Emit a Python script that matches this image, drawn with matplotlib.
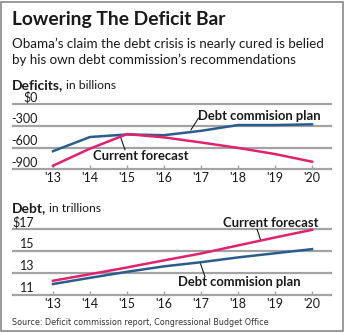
import matplotlib
matplotlib.use("Agg")
import matplotlib.pyplot as plt
from matplotlib.patches import Rectangle
from matplotlib.transforms import offset_copy, blended_transform_factory

years = [2013, 2014, 2015, 2016, 2017, 2018, 2019, 2020]
year_labels = ["'13", "'14", "'15", "'16", "'17", "'18", "'19", "'20"]

deficit_plan = [-650, -455, -420, -430, -370, -290, -290, -280]
deficit_forecast = [-850, -615, -415, -460, -530, -605, -690, -795]
deficit_ticks = [0, -300, -600, -900]
deficit_tick_labels = ["$0", "-300", "-600", "-900"]

debt_plan = [11.98, 12.55, 13.1, 13.6, 13.98, 14.42, 14.8, 15.18]
debt_forecast = [12.28, 12.88, 13.5, 14.15, 14.78, 15.52, 16.25, 16.95]
debt_ticks = [17, 15, 13, 11]
debt_tick_labels = ["$17", "15", "13", "11"]

BLUE = "#2b5d8c"
PINK = "#e0236f"
GRID = "#a3a3a3"
TEXT = "#1a1a1a"
FONT = "Lato"

W, H = 345, 333
fig = plt.figure(figsize=(W / 100, H / 100), dpi=100)
fig.patch.set_facecolor("white")
fig.add_artist(Rectangle((1 / W, 2 / H), (W - 3) / W, (H - 4) / H, transform=fig.transFigure,
                         fill=False, edgecolor="#8a8a8a", linewidth=1.2))

def fy(py):
    return 1 - py / H

def fx(px):
    return px / W

fig.text(fx(12), fy(25), "Lowering The Deficit Bar", fontsize=13.9, fontweight="bold",
         family=FONT, color=TEXT, va="baseline")
fig.text(fx(12), fy(48), "Obama\u2019s claim the debt crisis is nearly cured is belied",
         fontsize=9.6, family=FONT, color=TEXT, va="baseline")
fig.text(fx(12), fy(64), "by his own debt commission\u2019s recommendations",
         fontsize=9.6, family=FONT, color=TEXT, va="baseline")

def section_title(py, bold, rest):
    t = fig.text(fx(12), fy(py), bold, fontsize=10, fontweight="bold", family=FONT,
                 color=TEXT, va="baseline")
    fig.canvas.draw()
    bb = t.get_window_extent()
    fig.text(bb.x1 / W + 3 / W, fy(py), rest, fontsize=8.8, family=FONT,
             color=TEXT, va="baseline")

section_title(89, "Deficits,", "in billions")
section_title(212, "Debt,", "in trillions")

left, right = fx(13), fx(331)
x0 = 2013 - 40 / 37
x1 = 2020 + 19 / 37

def px2yr(px):
    return 2013 + (px - 53) / 37

def make_axes(top_px, bot_px):
    ax = fig.add_axes([left, fy(bot_px), right - left, (bot_px - top_px) / H])
    ax.set_facecolor("none")
    for s in ax.spines.values():
        s.set_visible(False)
    ax.set_xlim(x0, x1)
    ax.set_xticks(years)
    ax.set_xticklabels([])
    ax.tick_params(axis="x", direction="in", length=3, width=1, color=GRID)
    ax.set_yticks([])
    tr = offset_copy(blended_transform_factory(ax.transData, ax.transAxes),
                     fig=fig, x=0, y=-8.8, units="dots")
    for yr, lab in zip(years, year_labels):
        ax.text(yr, 0, lab, transform=tr, ha="center", va="center",
                family=FONT, fontsize=9, color=TEXT)
    return ax

def ylabels(ax, ticks, labels, right_px):
    tr = offset_copy(ax.transData, fig=fig, x=0, y=6.6, units="dots")
    for v, lab in zip(ticks, labels):
        ax.axhline(v, color=GRID, linewidth=1.6, zorder=1, clip_on=False)
        ax.text(px2yr(right_px), v, lab, transform=tr, family=FONT, fontsize=9,
                color=TEXT, va="center", ha="right", clip_on=False)

LBL = dict(fontsize=9.4, fontweight="bold", family=FONT, color=TEXT, va="center", ha="left")
LEAD = dict(color=TEXT, lw=0.8)

# Deficits
ax1 = make_axes(104, 169.3)
ax1.set_ylim(-900, 0)
ylabels(ax1, deficit_ticks, deficit_tick_labels, 37.5)
ax1.plot(years, deficit_plan, color=BLUE, linewidth=1.8, zorder=3, clip_on=False)
ax1.plot(years, deficit_forecast, color=PINK, linewidth=1.8, zorder=3, clip_on=False)
ax1.text(px2yr(198), -163, "Debt commision plan", **LBL)
ax1.plot([px2yr(191), px2yr(198.5)], [-355, -195], **LEAD)
ax1.text(px2yr(93), -719, "Current forecast", **LBL)
ax1.plot([px2yr(120.5), px2yr(125)], [-455, -630], **LEAD)

# Debt
ax2 = make_axes(229.3, 294.7)
ax2.set_ylim(11, 17)
ylabels(ax2, debt_ticks, debt_tick_labels, 34)
ax2.plot(years, debt_forecast, color=PINK, linewidth=1.8, zorder=3, clip_on=False)
ax2.plot(years, debt_plan, color=BLUE, linewidth=1.8, zorder=3, clip_on=False)
ax2.text(px2yr(223), 17.6, "Current forecast", **LBL)
ax2.plot([px2yr(256), px2yr(260.5)], [17.3, 16.05], **LEAD)
ax2.text(px2yr(178), 12.19, "Debt commision plan", **LBL)
ax2.plot([px2yr(200.5), px2yr(205)], [13.85, 12.65], **LEAD)

fig.text(fx(12), fy(325), "Source: Deficit commission report, Congressional Budget Office",
         fontsize=5.75, family="Liberation Sans Narrow", color="#333333", va="baseline")

fig.savefig("out.png", dpi=100, facecolor="white")
